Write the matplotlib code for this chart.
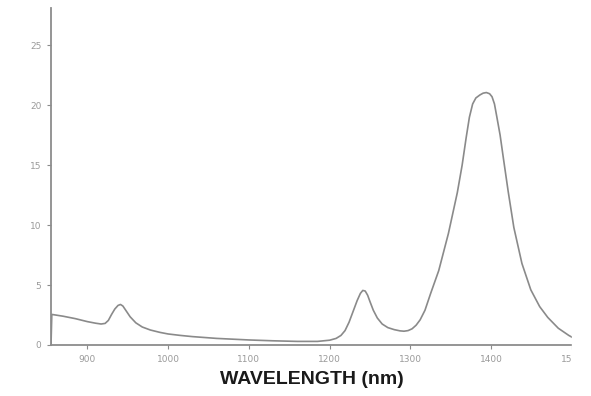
import matplotlib
matplotlib.use("Agg")
import matplotlib.pyplot as plt
from matplotlib.patches import Rectangle

wavelength = [855, 856, 870, 885, 900, 910, 917, 922, 926, 930, 934, 938, 941, 944, 948,
              953, 960, 968, 978, 990, 1000, 1015, 1030, 1060, 1100, 1130, 1160, 1185,
              1200, 1208, 1214, 1219, 1224, 1229, 1234, 1238, 1241, 1244, 1247, 1250,
              1254, 1259, 1265, 1272, 1280, 1287, 1292, 1297, 1302, 1307, 1312, 1318,
              1325, 1335, 1347, 1358, 1364, 1369, 1373, 1377, 1381, 1386, 1390, 1394,
              1398, 1401, 1404, 1407, 1411, 1415, 1421, 1428, 1438, 1449, 1460, 1470,
              1483, 1496, 1500]
absorbance = [0.0, 2.55, 2.4, 2.2, 1.95, 1.82, 1.75, 1.8, 2.05, 2.55, 3.0, 3.3, 3.38, 3.25, 2.85,
              2.35, 1.85, 1.5, 1.25, 1.05, 0.92, 0.8, 0.7, 0.55, 0.42, 0.35, 0.3, 0.3,
              0.4, 0.55, 0.8, 1.2, 1.9, 2.8, 3.7, 4.3, 4.55, 4.5, 4.15, 3.6,
              2.9, 2.25, 1.75, 1.45, 1.28, 1.18, 1.15, 1.2, 1.35, 1.65, 2.1, 2.9,
              4.3, 6.2, 9.3, 12.7, 15.0, 17.3, 19.0, 20.1, 20.6, 20.85, 21.0, 21.05,
              20.95, 20.7, 20.1, 19.0, 17.5, 15.6, 12.8, 9.8, 6.8, 4.6, 3.2, 2.3,
              1.4, 0.8, 0.65]

x_ticks = [900, 1000, 1100, 1200, 1300, 1400, 1500]
y_ticks = [0, 5, 10, 15, 20, 25]
x_label = "WAVELENGTH (nm)"

fig = plt.figure(figsize=(5.91, 3.96), dpi=100)
ax = fig.add_axes([51 / 591, 1 - 345 / 396, 521 / 591, 337 / 396])

ax.plot(wavelength, absorbance, color="#8a8a8a", lw=1.2, solid_joinstyle="round")
ax.set_xlim(855, 1500)
ax.set_ylim(0, 28.1)

ax.set_xticks(x_ticks)
ax.set_yticks(y_ticks)
ax.set_xticklabels([str(v) for v in x_ticks])
ax.set_yticklabels([str(v) for v in y_ticks])

for s in ["top", "right"]:
    ax.spines[s].set_visible(False)
for s in ["left", "bottom"]:
    ax.spines[s].set_color("#8c8c8c")
    ax.spines[s].set_linewidth(1.3)

ax.tick_params(axis="both", colors="#8c8c8c", labelcolor="#9a9a9a",
               labelsize=6.5, length=3, width=0.8, direction="out", pad=4)

ax.set_xlabel(x_label, fontsize=14, fontweight="bold", family="Liberation Sans",
              color="#1a1a1a", labelpad=5)

# image edge crop on the right side of the original
fig.patches.append(Rectangle((572 / 591, 0), 1, 1, transform=fig.transFigure,
                             color="white", zorder=10))

fig.savefig("out.png", dpi=100)
